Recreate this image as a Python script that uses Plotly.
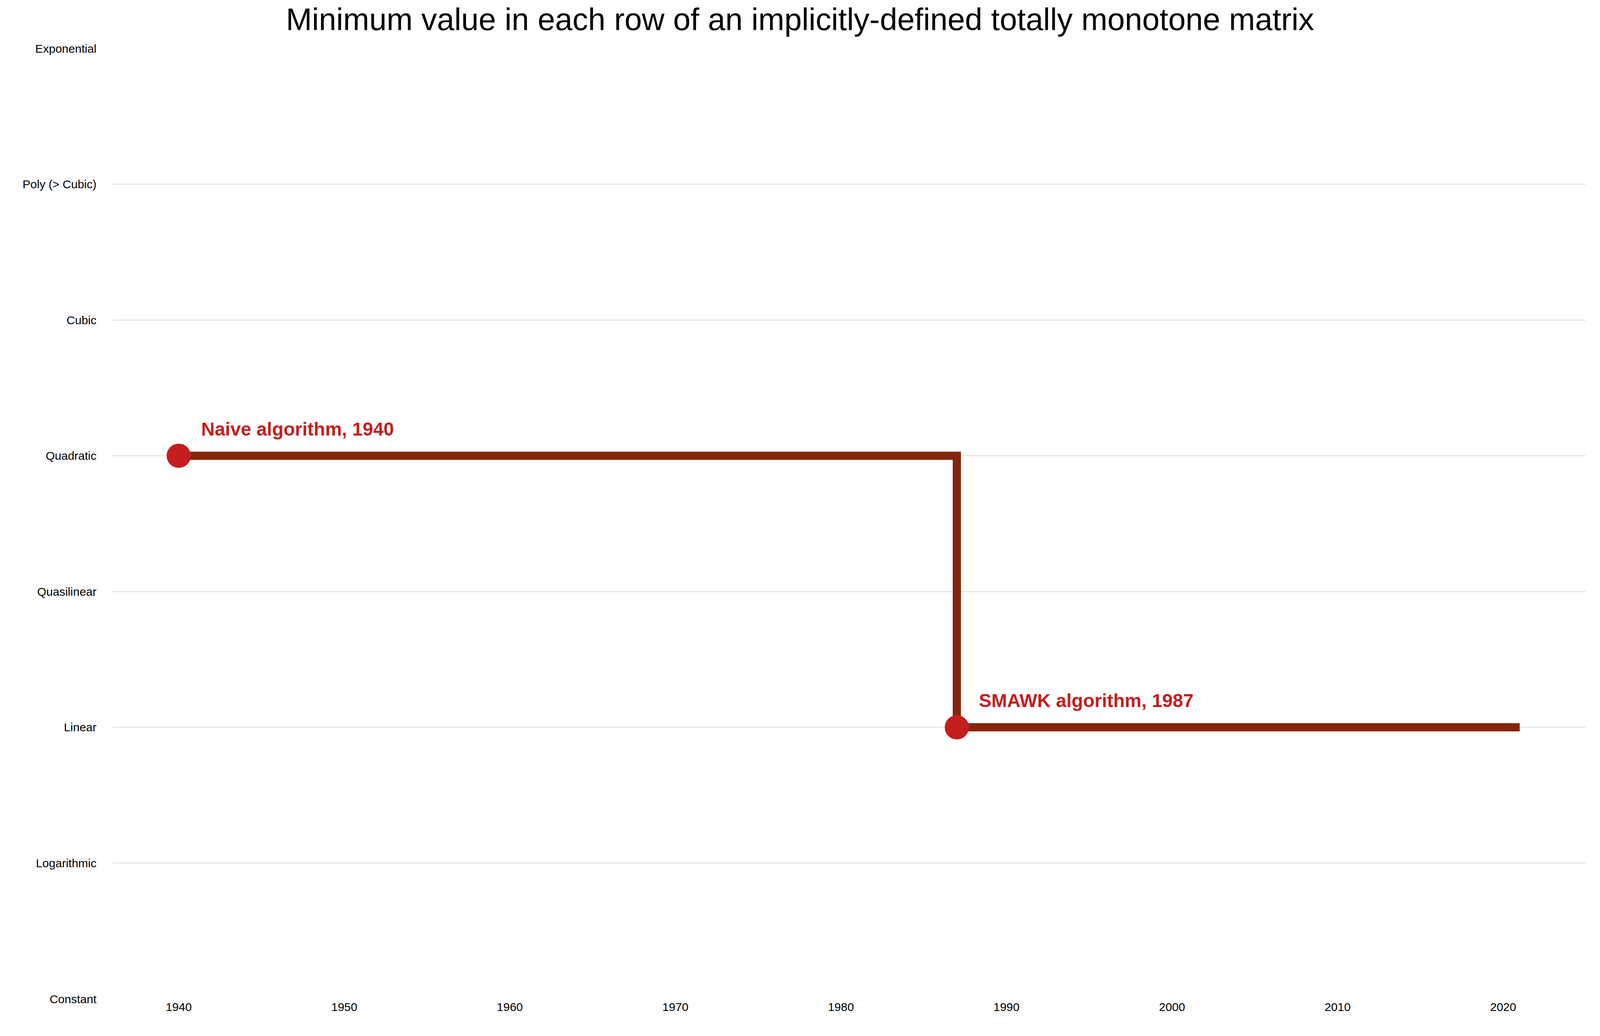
import plotly.graph_objects as go

categories = ["Constant", "Logarithmic", "Linear", "Quasilinear", "Quadratic", "Cubic", "Poly (> Cubic)", "Exponential"]
line_years = [1940, 1987, 2021]
line_levels = ["Quadratic", "Linear", "Linear"]
point_years = [1940, 1987]
point_levels = ["Quadratic", "Linear"]
point_labels = ["Naive algorithm, 1940", "SMAWK algorithm, 1987"]
x_ticks = [1940, 1950, 1960, 1970, 1980, 1990, 2000, 2010, 2020]

idx = {c: i for i, c in enumerate(categories)}
fig = go.Figure()
fig.add_trace(go.Scatter(x=line_years, y=[idx[l] for l in line_levels], mode="lines",
                         line=dict(color="#85260a", width=21, shape="hv"), hoverinfo="skip"))
fig.add_trace(go.Scatter(x=point_years, y=[idx[l] for l in point_levels], mode="markers",
                         marker=dict(color="#c41e1e", size=62), hoverinfo="skip"))
for x, l, t in zip(point_years, point_levels, point_labels):
    fig.add_annotation(x=x, y=idx[l], text="<b>" + t + "</b>", showarrow=False,
                       xanchor="left", yanchor="bottom", xshift=55, yshift=40,
                       font=dict(size=48, color="#c41e1e", family="Liberation Sans"))

fig.update_layout(
    autosize=True, plot_bgcolor="white", paper_bgcolor="white",
    margin=dict(l=280, r=28, t=116, b=103), showlegend=False,
    font=dict(family="Liberation Sans", size=30, color="black"),
    title=dict(text="Minimum value in each row of an implicitly-defined totally monotone matrix",
               x=0.5, xanchor="center", y=0.995, yanchor="top", font=dict(size=80)),
    xaxis=dict(range=[1936, 2025], tickvals=x_ticks, showgrid=False, zeroline=False,
               showline=False, ticks="", tickfont=dict(size=30)),
    yaxis=dict(range=[0, 7], tickvals=list(range(len(categories))), ticktext=categories,
               showgrid=True, gridcolor="#e6e6e6", gridwidth=3, zeroline=False,
               showline=False, ticks="", ticklabelstandoff=40, tickfont=dict(size=30)),
)
fig.write_html("out.html", default_width="100%", default_height="100vh", config={"responsive": True})
